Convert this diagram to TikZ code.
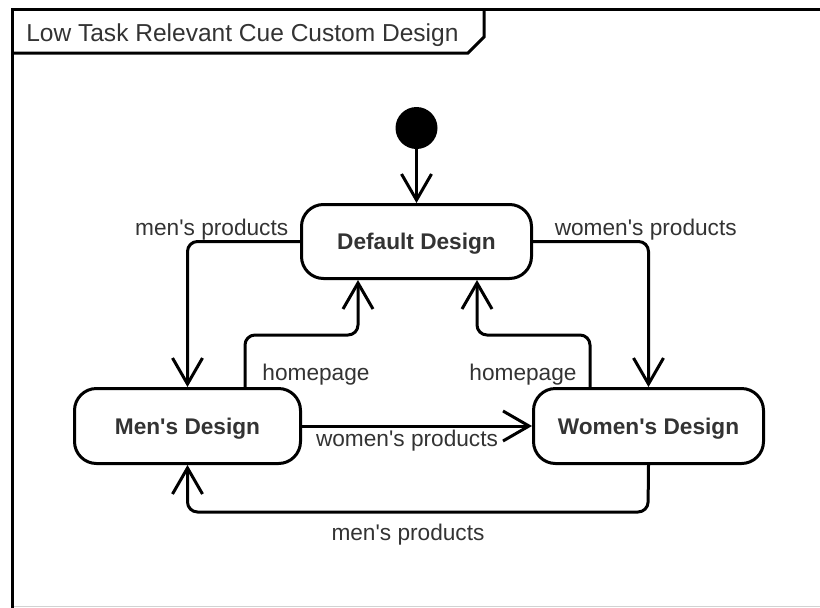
\documentclass[tikz,border=0pt]{standalone}
\usepackage{fontspec}
\setmainfont{Liberation Sans}
\usetikzlibrary{arrows.meta}
\definecolor{txt}{HTML}{333333}
\newcommand{\ap}{\textquotesingle}
\tikzset{
  state/.style={draw, line width=2.25pt, rounded corners=16.5pt, inner sep=0pt,
    text depth=0pt, font=\fontsize{17}{20}\selectfont\bfseries, text=txt},
  flow/.style={line width=2.25pt, rounded corners=7.5pt,
    -{Straight Barb[length=19.5pt,width=22.5pt]}},
  lbl/.style={font=\fontsize{17}{20}\selectfont, text=txt, inner sep=0pt},
  framestroke/.style={line width=2.25pt},
}
\begin{document}
\begin{tikzpicture}[x=0.75pt,y=-0.75pt]
  \useasboundingbox (0,0) rectangle (820,607);
  \clip (0,0) rectangle (820,607);

  % diagram frame and its name tab
  \draw[gray!35, line width=0.75pt] (12,606.6) -- (822,606.6);
  \draw[framestroke] (12,612) -- (12,9) -- (825,9);
  \draw[framestroke] (12,53) -- (468,53) -- (484,37) -- (484,9);
  \node[lbl, font=\fontsize{18.4}{21}\selectfont, anchor=west] (title) at (26,35)
    {Low Task Relevant Cue Custom Design};

  % states
  \node[circle, fill=black, minimum size=31.5pt, inner sep=0pt] (init) at (416.5,128) {};
  \node[state, minimum width=172.5pt, minimum height=55.5pt] (def) at (416.5,241.5) {Default Design};
  \node[state, minimum width=169.5pt, minimum height=56.25pt] (men) at (187.5,426) {Men\ap s Design};
  \node[state, minimum width=172.5pt, minimum height=56.25pt] (wom) at (648.5,426) {Women\ap s Design};

  % bend points of the routed transitions
  \coordinate (mh) at (245,335);
  \coordinate (md) at (358,335);
  \coordinate (wh) at (590,335);
  \coordinate (wd) at (477,335);
  \coordinate (lo) at (648,512);

  % transitions
  \draw[flow] (init) -- (def);
  \draw[flow] (def.west) -| (men.north);
  \draw[flow] (def.east) -| (wom.north);
  \draw[flow] (men.north -| mh) -- (mh) -- (md) -- (def.south -| md);
  \draw[flow] (wom.north -| wh) -- (wh) -- (wd) -- (def.south -| wd);
  \draw[flow] (men.east) -- (wom.west);
  \draw[flow] (wom.south) -- (lo) -| (men.south);

  % transition labels
  \node[lbl, anchor=east] (l1) at (288.5,229.5) {men\ap s products};
  \node[lbl, anchor=west] (l2) at (554.5,229.5) {women\ap s products};
  \node[lbl] (l3) at (316,374.5) {homepage};
  \node[lbl] (l4) at (523,374.5) {homepage};
  \node[lbl] (l5) at (407,441) {women\ap s products};
  \node[lbl] (l6) at (408,534.5) {men\ap s products};
\end{tikzpicture}
\end{document}
